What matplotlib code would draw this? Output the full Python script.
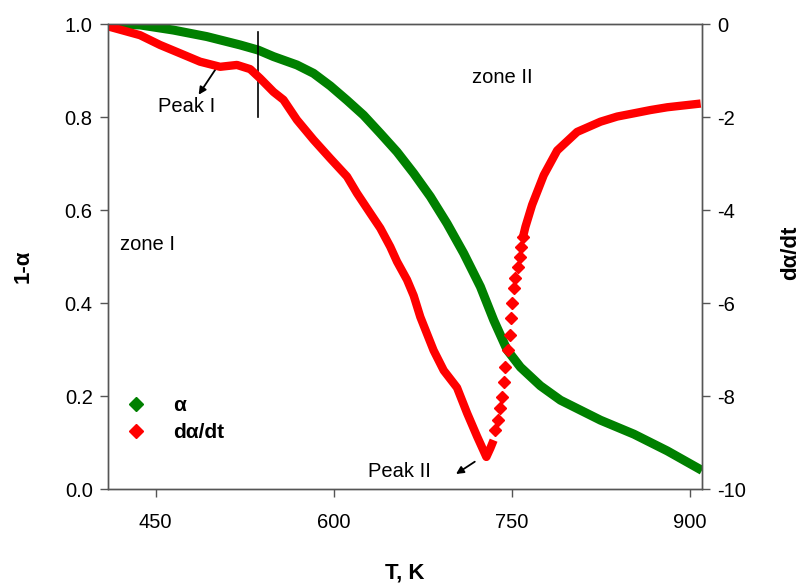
import matplotlib
matplotlib.use('Agg')
import matplotlib.pyplot as plt
from matplotlib.lines import Line2D

plt.rcParams['font.family'] = ['Liberation Sans', 'DejaVu Sans']
plt.rcParams['axes.unicode_minus'] = False

# 1-alpha vs temperature
T_conv = [410.0, 437.0, 465.0, 493.2, 521.2, 536.4, 549.3, 569.0, 583.0, 597.1,
          611.2, 625.1, 639.2, 653.3, 667.3, 681.3, 695.4, 709.4, 723.5, 734.7,
          746.0, 757.2, 774.0, 790.9, 824.6, 852.7, 880.8, 910.0]
conv = [1.000, 0.998, 0.987, 0.973, 0.955, 0.944, 0.930, 0.912, 0.894, 0.867,
        0.836, 0.804, 0.765, 0.725, 0.679, 0.629, 0.571, 0.507, 0.435, 0.363,
        0.299, 0.262, 0.222, 0.191, 0.148, 0.118, 0.082, 0.040]

# d(alpha)/dt: dense part up to the peak
T_rate_a = [410.0, 431.3, 437.0, 453.8, 470.7, 487.5, 504.4, 518.5, 529.7, 538.1,
            549.3, 557.7, 569.0, 583.0, 597.1, 611.2, 619.6, 630.8, 639.2, 647.6,
            653.3, 661.7, 667.3, 672.9, 684.1, 692.6, 703.8, 712.3, 720.7, 728.5,
            731.9, 734.6]
rate_a = [-0.05, -0.20, -0.24, -0.45, -0.63, -0.81, -0.92, -0.88, -0.97, -1.17,
          -1.46, -1.63, -2.06, -2.49, -2.89, -3.28, -3.64, -4.07, -4.39, -4.79,
          -5.11, -5.50, -5.84, -6.30, -7.02, -7.45, -7.82, -8.37, -8.87, -9.31,
          -9.12, -8.95]

# fast rise, single points spread apart
T_rate_b = [736.1, 738.0, 740.3, 741.8, 743.1, 744.5, 746.5, 748.2, 749.3,
            750.2, 751.5, 753.0, 754.9, 756.6, 757.8, 759.4]
rate_b = [-8.73, -8.52, -8.26, -8.02, -7.69, -7.37, -7.01, -6.69, -6.33,
          -6.01, -5.68, -5.47, -5.22, -5.00, -4.79, -4.57]

# tail
T_rate_c = [759.4, 761.4, 767.0, 776.8, 788.1, 804.9, 824.6, 838.6, 852.7, 866.6,
            880.8, 908.9]
rate_c = [-4.57, -4.36, -3.89, -3.25, -2.72, -2.32, -2.10, -1.99, -1.92, -1.85,
          -1.79, -1.71]

green = '#008000'
red = '#ff0000'
spine_col = '#555555'

fig = plt.figure(figsize=(8.03, 5.86), dpi=100)
ax = fig.add_axes([0.1345, 0.1655, 0.7397, 0.7935])
ax2 = ax.twinx()

ax.plot(T_conv, conv, color=green, lw=6.5, solid_joinstyle='round', solid_capstyle='butt')
ax2.plot(T_rate_a, rate_a, color=red, lw=6, solid_joinstyle='round', solid_capstyle='butt')
ax2.plot(T_rate_b, rate_b, ls='none', marker='D', ms=6.5, color=red, mec=red)
ax2.plot(T_rate_c, rate_c, color=red, lw=6, solid_joinstyle='round', solid_capstyle='butt')

ax.set_xlim(410, 910)
ax.set_ylim(0, 1.0)
ax2.set_ylim(-10, 0)
ax.set_xticks([450, 600, 750, 900])
ax.set_yticks([0.0, 0.2, 0.4, 0.6, 0.8, 1.0])
ax.set_yticklabels(['0.0', '0.2', '0.4', '0.6', '0.8', '1.0'])
ax2.set_yticks([0, -2, -4, -6, -8, -10])

for a in (ax, ax2):
    for s in a.spines.values():
        s.set_color(spine_col)
        s.set_linewidth(1.0)
    a.tick_params(direction='out', length=6, width=1.0, color=spine_col,
                  labelsize=14.5, labelcolor='black')
ax.tick_params(axis='x', pad=11)
ax.tick_params(axis='y', pad=5)
ax2.tick_params(axis='y', pad=5)

ax.set_xlabel('T, K', fontsize=16, fontweight='bold', va='center')
ax.xaxis.set_label_coords(0.5, -0.18)
ax.set_ylabel('1-α', fontsize=16, fontweight='bold', va='center')
ax.yaxis.set_label_coords(-0.143, 0.48)
ax2.set_ylabel('dα/dt', fontsize=16, fontweight='bold', va='center')
ax2.yaxis.set_label_coords(1.15, 0.507)

ax.text(420, 0.525, 'zone I', fontsize=14.5, va='center')
ax.text(716.7, 0.886, 'zone II', fontsize=14.5, va='center')
ax.text(452, 0.822, 'Peak I', fontsize=14.5, va='center')
ax.text(629, 0.037, 'Peak II', fontsize=14.5, va='center')
ax.annotate('', xy=(485.0, 0.843), xytext=(501.9, 0.908),
            arrowprops=dict(arrowstyle='-|>', color='black', lw=1.3, mutation_scale=11))
ax.annotate('', xy=(701.0, 0.029), xytext=(720.7, 0.062),
            arrowprops=dict(arrowstyle='-|>', color='black', lw=1.3, mutation_scale=11))
ax.plot([536.4, 536.4], [0.80, 0.983], color='black', lw=1.2)

handles = [Line2D([], [], ls='none', marker='D', ms=7, color=green, label='α'),
           Line2D([], [], ls='none', marker='D', ms=7, color=red, label='dα/dt')]
ax.legend(handles=handles, loc='upper left', bbox_to_anchor=(0.0157, 0.218), frameon=False,
          borderaxespad=0, handlelength=1.0, handletextpad=1.3, labelspacing=0.4,
          prop={'size': 15, 'weight': 'bold'})

fig.savefig('out.png', dpi=100)
